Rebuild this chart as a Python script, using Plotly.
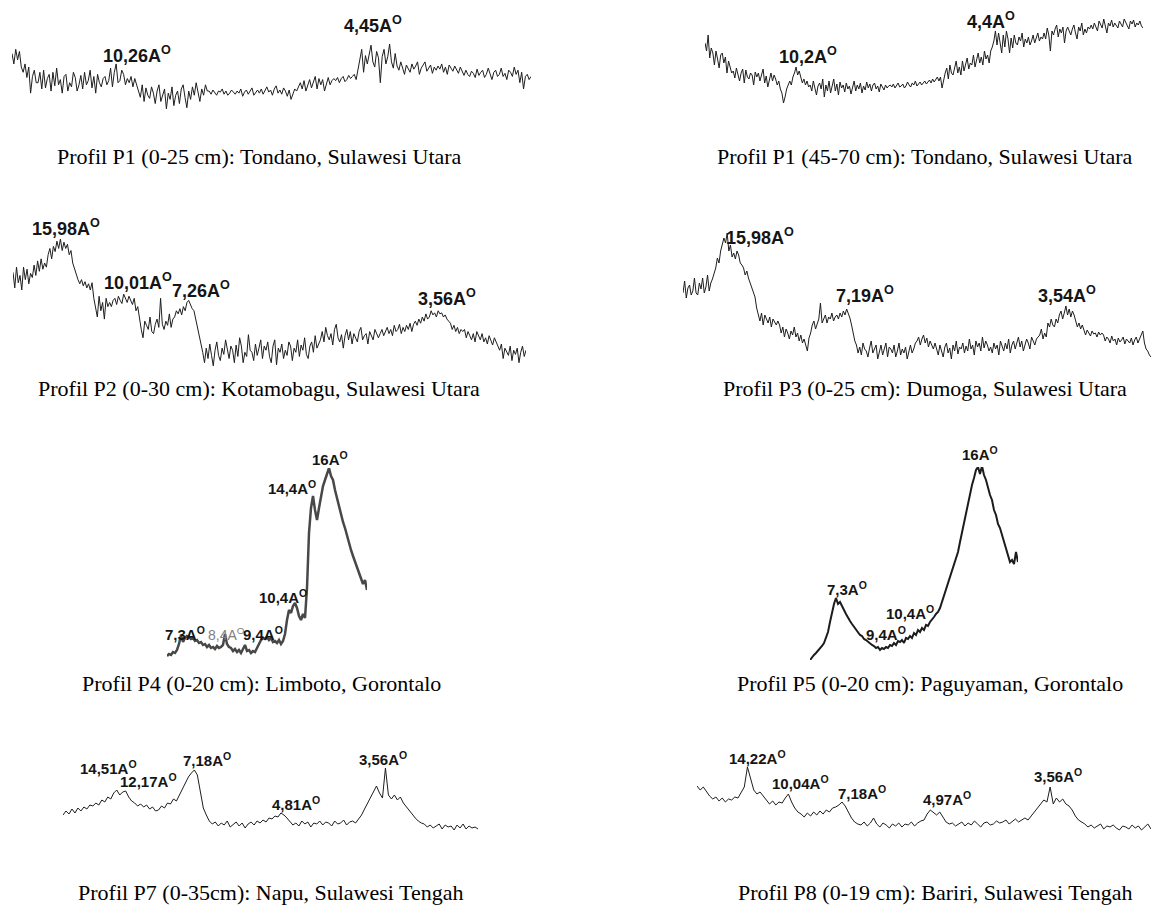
import plotly.graph_objects as go

W, H = 1152, 905

# ---- intensity readings (arbitrary units) ----
p1_top = [58, 48, 62, 52, 60, 45,
          40, 48, 35, 45, 20, 36, 42, 30,
          30, 40, 24, 42, 25, 34, 38, 22, 40, 27, 44, 28, 33, 20, 36, 38, 22, 30,
          26, 40, 35, 22, 28, 37, 24, 40, 28, 32, 42, 25, 36, 20, 38, 30, 26, 34,
          36, 28, 32, 44, 26, 40, 48, 30, 32, 42, 38, 28, 34, 30, 36, 26, 34, 28,
          22, 16, 28, 12, 25, 18, 15, 26, 20, 10, 22, 28, 12, 17, 24, 5, 20, 14, 26,
          8, 18, 22, 10, 24, 28, 16, 6, 22, 14, 26, 18, 30, 20, 12, 24, 18, 28, 22,
          22, 19, 23, 20, 18, 22, 21, 24, 19, 22, 18, 20, 23, 21, 19, 22, 20, 24,
          17, 21, 23, 19, 22, 25, 18, 21, 23, 20, 24, 19, 22, 26, 21, 23, 18, 24,
          27, 20, 23, 19, 25, 22, 17, 23, 14, 20, 24, 22,
          26, 30, 24, 32, 22, 28, 33, 25, 30, 36, 24, 34, 28, 33, 22, 30, 35, 28, 32, 34,
          32, 35, 30, 34, 36, 31, 33, 37, 34, 36, 38, 33,
          44, 52, 62, 40, 56, 48,
          58, 66, 50, 45, 60, 54, 30, 55, 62, 48, 55, 67, 50, 44, 58, 46,
          42, 50, 44, 38, 47, 44, 40, 48, 43, 46, 50, 38, 44, 47, 50, 41, 44,
          47, 39, 45, 42, 46, 43, 48, 40, 45, 38, 47, 44, 41, 46, 43, 39, 45,
          40, 37, 42, 38, 36, 41, 39, 35, 43, 37, 40, 42, 35, 38, 44, 38, 33, 40, 42,
          36, 38, 44, 36, 39, 33, 42, 40, 36, 45, 38, 42, 30, 40, 24, 36, 38, 33, 36]

p1_deep = [60, 52, 68,
           45, 55, 50, 38, 52, 44, 35, 48, 50, 40, 46, 30, 42, 36, 30,
           32, 25, 35, 28, 22, 30, 34, 20, 33, 26, 24, 30, 28, 18, 31,
           26, 30, 22, 29, 34, 20, 27, 16, 25, 30, 22, 28, 24, 18, 22,
           14, 10, 0, 6, 14, 18,
           22, 18, 26, 30, 36, 28, 32, 26, 20, 24, 18, 22, 16,
           18, 12, 22, 14, 8, 17, 20, 14, 24, 6, 18, 12, 22, 10, 16, 24, 12,
           19, 8, 21, 15, 18, 11, 20, 14, 17, 9, 16, 22, 12, 18, 14, 20, 10,
           17, 13, 21, 15, 19, 12, 18, 20, 14, 17, 11, 19, 16, 13, 18, 15, 17,
           18, 16, 19, 15, 18, 20, 16, 17, 19, 15, 17, 21, 18, 16, 20, 18,
           22, 17, 19, 21, 18, 20, 22, 19, 21, 23, 20, 24, 21, 23, 26, 22,
           26, 15, 24, 30,
           35, 24, 38, 30, 28, 36, 42, 30, 36, 28, 42, 32, 38, 45, 34,
           40, 38, 48, 36, 44, 50, 40, 46, 38, 52, 44, 48, 40, 52, 56,
           62, 72, 58, 70, 60, 50, 68, 56, 72, 64, 50,
           65, 55, 68, 60, 58, 66, 62, 70, 56, 64, 60, 66, 58, 62, 68, 60, 64, 70, 62, 66, 64,
           70, 64, 75, 68, 52, 72, 68, 74, 78, 66, 74, 70, 76, 60, 72,
           76, 72, 68, 74, 78, 70, 64, 76, 72, 80, 68, 74, 70, 76, 74,
           78, 74, 80, 76, 72, 82, 78, 75, 84, 78, 70, 80, 77, 83, 76, 80, 78,
           75, 82, 79, 76, 84, 80, 78, 74, 82, 79, 83, 76, 80, 78, 82, 77, 75]

p2 = [95, 80, 100, 85, 92, 78, 100, 88, 98, 84, 94, 90,
      102, 92, 106, 96, 108, 98, 104, 100,
      112, 118, 108, 120, 115, 125, 118, 127, 116, 124, 118, 122, 112, 116,
      104, 98, 92, 88,
      84, 88, 82, 86, 80, 84, 78, 85,
      70, 60, 52, 72, 58, 66, 50, 70, 62, 66,
      62, 68, 70, 64, 72, 68, 65, 74, 70, 66, 72, 68, 64, 70, 58, 62,
      50, 40, 32, 48, 44, 40, 52, 38, 36, 45, 50, 42, 70, 45, 40, 48, 44, 55, 42, 50,
      52, 58, 55, 60, 54, 62, 58, 66, 68, 64, 60, 58,
      50, 42, 36, 28,
      18, 8, 22, 12, 26, 15, 5, 20, 28, 15, 10, 22, 16, 30, 20, 12, 24,
      20, 8, 25, 14, 32, 24, 8, 18, 14, 35, 20, 18, 10, 26, 15, 22,
      30, 12, 24, 20, 28, 14, 8, 24, 30, 6, 22, 18, 26, 12, 20, 15, 28,
      24, 10, 22, 18, 30, 14, 25, 20, 32, 16, 12, 24, 28, 18, 34, 22, 26, 30,
      38, 28, 42, 34, 30, 36, 25, 40, 45, 32, 28, 35, 22, 34, 40, 30, 38,
      26, 36, 32, 28, 38, 42, 30, 34, 36, 26, 38, 33, 30, 40, 35, 32,
      36, 40, 34, 38, 42, 36, 40, 34, 44, 38, 40, 45, 36, 42, 38, 44, 40, 46, 38, 45,
      48, 44, 50, 46, 52, 48, 55, 50, 52, 58, 54, 56, 52, 58, 55, 56, 52, 54, 50, 48,
      46, 40, 44, 38, 42, 36, 40, 38,
      40, 32, 38, 34, 30, 36, 28, 38, 34, 30, 36, 28, 32, 26, 34, 30, 25, 32, 28, 24,
      20, 26, 12, 22, 18, 15, 24, 10, 20, 16, 22, 8, 18, 24, 14, 20]

p3 = [70, 82, 65, 75, 78, 68, 72, 85, 70, 68, 80, 74, 85, 70, 76, 88, 72, 80, 84,
      90, 95, 105, 100, 112, 118, 125, 120, 130,
      112, 118, 106, 110, 104, 112, 108, 100,
      98, 95, 88, 92, 85, 80, 76, 70, 66,
      55, 48, 42, 50, 38, 48, 44, 40, 46, 36, 44, 40, 38, 42,
      38, 30, 36, 26, 34, 30, 24, 32, 28, 36, 26, 30, 22, 28, 20, 24, 18, 12, 25,
      30, 38, 42, 34, 40, 44, 60, 40,
      44, 48, 40, 46, 44, 50, 42, 46, 48, 44, 50, 46, 52, 48, 54, 50,
      45, 38, 30, 22,
      18, 10, 16, 8, 20, 14, 12, 6, 15, 22, 10, 14, 18, 4, 12, 18, 8, 13, 20,
      6, 16, 14, 10, 18, 6, 12, 20, 8, 14, 10, 16, 4, 12, 18, 10, 14, 20,
      22, 26, 18, 24, 28, 20, 25, 16, 22, 18, 14, 20,
      14, 8, 18, 12, 6, 16, 20, 10, 15, 4, 18, 12, 22, 9, 16, 14, 20, 10, 17, 12, 24,
      14, 18, 8, 22, 16, 20, 12, 26, 15, 22, 18, 12, 16, 10, 20, 14, 18, 8, 22, 16,
      12, 20, 14, 24, 10, 18, 22, 14, 20, 26, 16, 22, 12, 18, 24, 20, 14, 26, 22, 18, 24,
      26, 28, 34, 24, 30, 26, 40, 36, 44, 38, 36, 44, 40, 48,
      52, 44, 50, 57, 48, 54, 46, 52, 48,
      42, 36, 40, 34, 38,
      32, 28, 33, 30, 27, 32, 29, 30, 26, 31, 28, 30,
      28, 22, 26, 24, 20, 27, 22, 24, 18, 25, 21, 23, 26, 19, 24, 22, 20, 25, 18, 23,
      26, 20, 24, 28, 32,
      20, 14, 12, 8, 6]

p4 = [2, 4, 3, 6, 5, 8, 14, 23, 16, 20,
      22, 21, 19, 20, 17, 18, 15, 16, 13, 14,
      11, 13, 10, 11, 9, 12, 10, 11, 13, 24,
      14, 11, 10, 7, 9, 6, 8, 5, 9, 13,
      7, 8, 5, 7, 6, 10, 14, 18, 20, 19,
      21, 18, 20, 16, 17, 15, 18, 14, 17, 24,
      38, 48, 45, 52, 55, 50, 42, 38, 44, 40,
      70, 125, 150, 162, 148, 138, 150, 160, 172, 178,
      184, 190, 182, 178, 168, 160, 150, 142, 136, 130,
      122, 114, 108, 102, 96, 92, 86, 80, 74, 78, 68]

p5 = [0, 3, 5, 7, 9, 11, 14, 17, 22, 28,
      38, 48, 56, 62, 56, 58, 53, 50, 46, 42,
      39, 36, 33, 30, 28, 25, 24, 21, 20, 18,
      17, 15, 14, 12, 13, 10, 12, 11, 13, 12,
      15, 14, 17, 15, 19, 18, 20, 17, 22, 21,
      24, 22, 27, 25, 30, 28, 32, 30, 35, 34,
      38, 40, 43, 46, 48, 52, 58, 64, 70, 76,
      82, 88, 94, 100, 108, 118, 128, 138, 146, 156,
      166, 175, 182, 190, 193, 186, 194, 185, 180, 172,
      165, 160, 150, 145, 136, 132, 125, 118, 112, 104,
      98, 100, 96, 108, 98]

p7 = [18, 22, 19, 24, 20, 25, 22, 26, 24, 28,
      27, 30, 28, 33, 31, 36, 34,
      40, 43, 38, 41,
      42, 36,
      32, 30, 27, 29, 26, 28, 24, 26, 22, 23,
      27, 25, 30, 29, 34, 32, 38, 44,
      50, 56, 60, 63, 58,
      40, 25, 18,
      12, 9, 11, 7, 10, 8, 12, 6, 9, 11, 7, 10, 5, 9, 11, 8, 12, 10,
      13, 11, 15, 14, 17, 16, 20, 18, 15,
      11, 8, 10, 7, 12, 9, 11, 6, 10, 9, 12, 8, 11, 10, 7, 12, 9, 10, 13, 8, 11, 12, 10, 14,
      18, 24, 30, 36, 42, 47, 40,
      35, 65,
      38, 34, 38, 33, 36,
      30, 26, 22, 18, 15, 12, 10,
      9, 6, 8, 5, 7, 9, 4, 8, 6, 7, 3, 8, 5, 9, 4, 7, 5, 6, 4]

p8 = [46, 42, 45, 40,
      36, 33, 35, 31, 34, 30, 33, 32, 35, 34,
      40, 45,
      65, 52,
      42, 38, 40, 36,
      32, 28, 31, 27, 30, 29, 34,
      38,
      30, 24, 20,
      18, 15, 19, 16, 20, 17, 21, 18, 22, 20, 24, 25,
      27, 30, 26,
      20, 14, 10, 8,
      7, 10, 6, 9, 14, 8, 5, 9, 7, 4, 8, 6, 9, 5, 8, 7, 10, 6, 9, 11, 12,
      18, 22, 19, 17, 20, 15,
      10, 8, 9, 6,
      8, 10, 6, 9, 7, 11, 8, 5, 9, 10, 7, 8, 11, 9, 10, 12, 8, 11, 13, 10, 12, 14, 12, 16,
      20, 24, 28, 32, 30,
      45, 28,
      34, 30, 33, 28, 26,
      22, 16, 12, 10,
      8, 5, 7, 4, 6, 8, 3, 6, 5, 7, 4, 2, 6, 5, 3, 7, 4, 6, 2, 5, 8, 3]

captions = [
    "Profil P1 (0-25 cm): Tondano, Sulawesi Utara",
    "Profil P1 (45-70 cm): Tondano, Sulawesi Utara",
    "Profil P2 (0-30 cm): Kotamobagu, Sulawesi Utara",
    "Profil P3 (0-25 cm): Dumoga, Sulawesi Utara",
    "Profil P4 (0-20 cm): Limboto, Gorontalo",
    "Profil P5 (0-20 cm): Paguyaman, Gorontalo",
    "Profil P7 (0-35cm): Napu, Sulawesi Tengah",
    "Profil P8 (0-19 cm): Bariri, Sulawesi Tengah",
]

peak_labels = [
    ["10,26", "4,45"],
    ["10,2", "4,4"],
    ["15,98", "10,01", "7,26", "3,56"],
    ["15,98", "7,19", "3,54"],
    ["16", "14,4", "10,4", "7,3", "8,4", "9,4"],
    ["16", "7,3", "10,4", "9,4"],
    ["14,51", "12,17", "7,18", "4,81", "3,56"],
    ["14,22", "10,04", "7,18", "4,97", "3,56"],
]

series = [p1_top, p1_deep, p2, p3, p4, p5, p7, p8]

# ---- layout geometry (pixels) ----
boxes = [  # x0, x1, y_bottom, y_top, vmax
    (12, 531, 114, 41, 70),
    (705, 1143, 103, 15, 88),
    (13, 526, 371, 236, 130),
    (683, 1151, 363, 233, 130),
    (167, 367, 658, 468, 190),
    (810, 1018, 660, 467, 193),
    (63, 478, 833, 768, 65),
    (697, 1151, 832, 767, 65),
]
line_styles = [
    ("#1e1e1e", 1), ("#1e1e1e", 1), ("#1e1e1e", 1), ("#1e1e1e", 1),
    ("#484848", 2.5), ("#1c1c1c", 2), ("#1e1e1e", 1), ("#1e1e1e", 1),
]
label_pos = [
    [(137, 54), (373, 24)],
    [(808, 56), (991, 21)],
    [(66, 228), (138, 281), (201, 289), (447, 297)],
    [(760, 236), (865, 295), (1067, 295)],
    [(330, 458), (292, 487), (283, 596), (185, 633), (226, 634), (263, 633)],
    [(980, 453), (847, 588), (910, 612), (886, 633)],
    [(108, 767), (148, 780), (207, 759), (296, 803), (383, 758)],
    [(757, 757), (800, 782), (862, 792), (947, 798), (1058, 775)],
]
label_size = [18, 18, 18, 18, 15, 15, 15, 15]
caption_pos = [(259, 156), (925, 156), (259, 388), (925, 388),
               (261, 683), (930, 683), (270, 892), (935, 892)]


def px(x, y):
    return x / W, 1 - y / H


fig = go.Figure()
annotations = []
layout_axes = {}
for i, (vals, box, (col, lw)) in enumerate(zip(series, boxes, line_styles)):
    n = i + 1
    sx = "" if n == 1 else str(n)
    x0, x1, yb, yt, vmax = box
    fig.add_trace(go.Scatter(
        x=list(range(len(vals))), y=vals, mode="lines",
        line=dict(color=col, width=lw), xaxis="x" + sx, yaxis="y" + sx,
        showlegend=False, hoverinfo="skip"))
    layout_axes["xaxis" + sx] = dict(domain=[x0 / W, x1 / W], range=[0, len(vals) - 1],
                                     visible=False, anchor="y" + sx, fixedrange=True)
    layout_axes["yaxis" + sx] = dict(domain=[1 - yb / H, 1 - yt / H], range=[0, vmax],
                                     visible=False, anchor="x" + sx, fixedrange=True)
    for txt, (lx, ly) in zip(peak_labels[i], label_pos[i]):
        gray = (i == 4 and txt == "8,4")
        ax, ay = px(lx, ly)
        t = txt + "A<sup>O</sup>"
        annotations.append(dict(
            x=ax, y=ay, xref="paper", yref="paper", showarrow=False,
            text=t if gray else "<b>" + t + "</b>",
            font=dict(family="Arial, Liberation Sans, sans-serif",
                      size=label_size[i] - (1 if gray else 0),
                      color="#808080" if gray else "#151515"),
            xanchor="center", yanchor="middle"))
    cx, cy = px(*caption_pos[i])
    annotations.append(dict(
        x=cx, y=cy, xref="paper", yref="paper", showarrow=False, text=captions[i],
        font=dict(family="Times New Roman, Liberation Serif, serif", size=22, color="#000000"),
        xanchor="center", yanchor="middle"))

fig.update_layout(
    width=W, height=H, margin=dict(l=0, r=0, t=0, b=0),
    paper_bgcolor="white", plot_bgcolor="white",
    annotations=annotations, **layout_axes)

fig.write_html("out.html", config={"displayModeBar": False},
               post_script="document.body.style.margin='0';document.body.style.padding='0';")
